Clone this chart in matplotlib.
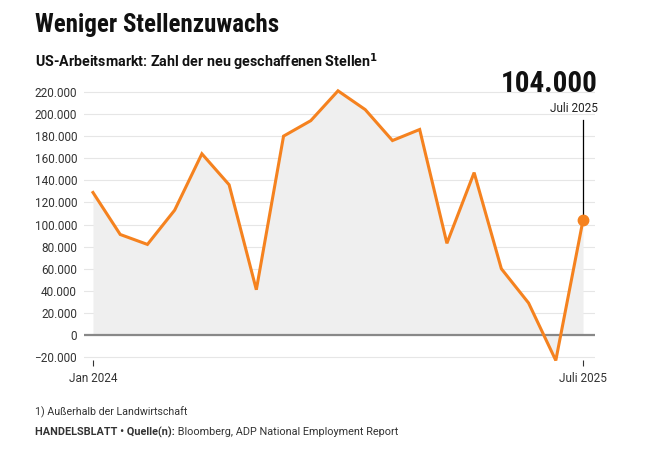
import matplotlib
matplotlib.use("Agg")
import matplotlib.pyplot as plt
from matplotlib.ticker import FuncFormatter
from matplotlib import font_manager

# Nonfarm job creation (ADP), Jan 2024 - Jul 2025
months = ["Jan 2024", "Feb 2024", "Mär 2024", "Apr 2024", "Mai 2024", "Jun 2024",
          "Jul 2024", "Aug 2024", "Sep 2024", "Okt 2024", "Nov 2024", "Dez 2024",
          "Jan 2025", "Feb 2025", "Mär 2025", "Apr 2025", "Mai 2025", "Jun 2025",
          "Juli 2025"]
jobs = [129000, 91000, 82000, 113000, 164000, 136000, 41000, 180000, 194000,
        221000, 204000, 176000, 186000, 83000, 147000, 60000, 29000, -23000,
        104000]
yticks = list(range(-20000, 220001, 20000))
xtick_pos = [0, len(months) - 1]
xtick_labels = ["Jan 2024", "Juli 2025"]

ORANGE = "#F5821F"
W, H = 649, 462
body = ["Roboto", "DejaVu Sans"]

# pick a narrow face for the headline if one is installed
names = {f.name for f in font_manager.fontManager.ttflist}
narrow = None
for cand in ["Roboto Condensed", "Liberation Sans Narrow", "DejaVu Sans Condensed",
             "Open Sans Condensed", "Noto Sans Condensed"]:
    if cand in names:
        narrow = cand
        break
if narrow:
    head = dict(family=[narrow, "DejaVu Sans"], tsize=18, nsize=21)
else:
    head = dict(family=["Roboto", "DejaVu Sans"], tsize=15, nsize=16)

fig = plt.figure(figsize=(W / 100, H / 100), dpi=100)
ax = fig.add_axes([84 / W, 1 - 359.9 / H, 511 / W, 273.5 / H])

x = list(range(len(jobs)))
ax.fill_between(x, jobs, 0, color="#efefef", lw=0, zorder=1)
ax.plot(x, jobs, color=ORANGE, lw=2.2, zorder=4, clip_on=False,
        solid_joinstyle="miter")
ax.plot(x[-1], jobs[-1], "o", color=ORANGE, ms=7.5, zorder=5, clip_on=False)

ax.set_xlim(-0.33, 18.44)
ax.set_ylim(-22500, 225000)

for v in yticks:
    ax.axhline(v, color="#e6e6e6", lw=0.8, zorder=0)
ax.axhline(0, color="#888888", lw=1.6, zorder=3)

ax.set_yticks(yticks)
ax.yaxis.set_major_formatter(FuncFormatter(
    lambda v, p: f"{int(v):,}".replace(",", ".").replace("-", "\u2212")))
ax.tick_params(axis="y", length=0, pad=5, labelsize=8.5, labelcolor="#333333")
ax.set_xticks(xtick_pos)
ax.set_xticklabels(xtick_labels)
ax.tick_params(axis="x", length=4, width=0.8, color="#333333", pad=5,
               labelsize=8.5, labelcolor="#333333")
for lab in ax.get_xticklabels() + ax.get_yticklabels():
    lab.set_family(body)
for s in ax.spines.values():
    s.set_visible(False)

# annotation line to last value
y0, y1 = ax.get_ylim()
ax.axvline(x[-1], ymin=(jobs[-1] - y0) / (y1 - y0), ymax=(359.9 - 120) / 273.5,
           color="black", lw=0.9, zorder=2)
fig.text(598 / W, 1 - 92 / H, f"{jobs[-1]:,}".replace(",", "."), ha="right",
         va="baseline", fontsize=head["nsize"], fontweight="bold",
         family=head["family"], color="#111111")
fig.text(598 / W, 1 - 108 / H, months[-1], ha="right", va="center",
         fontsize=8.5, color="#222222", family=body)

# titles
fig.text(35 / W, 1 - 32 / H, "Weniger Stellenzuwachs", ha="left", va="baseline",
         fontsize=head["tsize"], fontweight="bold", family=head["family"],
         color="#111111")
fig.text(35 / W, 1 - 62 / H, "US-Arbeitsmarkt: Zahl der neu geschaffenen Stellen$^{\\mathbf{1}}$",
         ha="left", va="center", fontsize=10.3, fontweight="bold", family=body,
         color="#111111")

# footer
fig.text(35 / W, 1 - 412 / H, "1) Außerhalb der Landwirtschaft", ha="left",
         va="center", fontsize=7.7, color="#333333", family=body)
t = fig.text(35 / W, 1 - 432 / H, "HANDELSBLATT \u2022 Quelle(n):", ha="left",
             va="center", fontsize=7.8, fontweight="bold", color="#333333", family=body)
src = fig.text(0, 0, " Bloomberg, ADP National Employment Report", ha="left",
               va="center", fontsize=7.8, color="#333333", family=body)
fig.canvas.draw()
bb = t.get_window_extent()
src.set_position((bb.x1 / W, 1 - 432 / H))

fig.savefig("out.png", dpi=100, facecolor="white")
